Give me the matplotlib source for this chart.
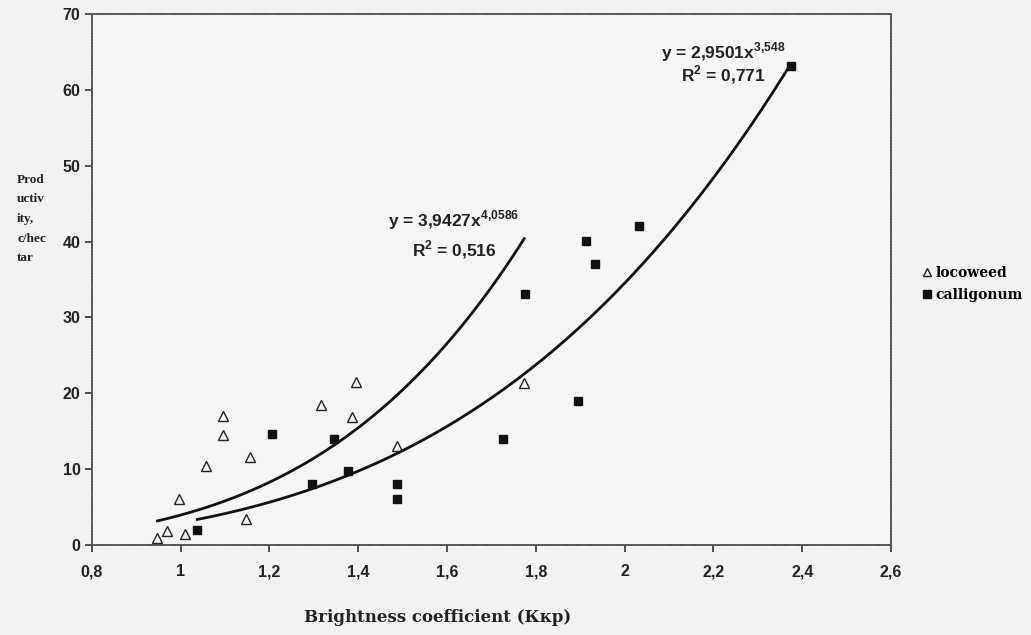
import matplotlib
matplotlib.use("Agg")
import matplotlib.pyplot as plt
import numpy as np
from matplotlib.lines import Line2D

# ---- data ----
loco_x = [0.948, 0.969, 1.010, 0.997, 1.057, 1.096, 1.096, 1.148, 1.157,
          1.316, 1.387, 1.395, 1.487, 1.774]
loco_y = [0.96, 1.8, 1.4, 6.0, 10.4, 14.5, 17.0, 3.4, 11.6,
          18.5, 16.9, 21.5, 13.0, 21.4]

calli_x = [1.038, 1.205, 1.297, 1.346, 1.377, 1.487, 1.487, 1.726, 1.775,
           1.896, 1.913, 1.933, 2.032, 2.374]
calli_y = [2.0, 14.6, 8.1, 14.0, 9.7, 8.1, 6.1, 14.0, 33.1,
           19.0, 40.1, 37.0, 42.1, 63.1]

# power trendline coefficients (from labels)
loco_a, loco_b = 3.9427, 4.0586
calli_a, calli_b = 2.9501, 3.548

x_ticks = [0.8, 1.0, 1.2, 1.4, 1.6, 1.8, 2.0, 2.2, 2.4, 2.6]
x_tick_labels = ["0,8", "1", "1,2", "1,4", "1,6", "1,8", "2", "2,2", "2,4", "2,6"]
y_ticks = [0, 10, 20, 30, 40, 50, 60, 70]

plt.rcParams['mathtext.fontset'] = 'custom'
plt.rcParams['mathtext.rm'] = 'Liberation Sans:bold'
plt.rcParams['mathtext.bf'] = 'Liberation Sans:bold'

W, H = 1031, 635
fig = plt.figure(figsize=(W / 100, H / 100), dpi=100)
bg = '#f2f2f2'
fig.patch.set_facecolor(bg)
ax = fig.add_axes([91.7 / W, (H - 545) / H, (891 - 91.7) / W, (545 - 14) / H])
ax.set_facecolor('#f5f5f5')

ax.set_xlim(0.8, 2.6)
ax.set_ylim(0, 70)

# trendlines
xs1 = np.linspace(min(loco_x), max(loco_x), 200)
ax.plot(xs1, loco_a * xs1 ** loco_b, color='#111111', lw=2.0, zorder=2)
xs2 = np.linspace(min(calli_x), max(calli_x), 200)
ax.plot(xs2, calli_a * xs2 ** calli_b, color='#111111', lw=2.0, zorder=2)

# scatter
ax.plot(loco_x, loco_y, linestyle='none', marker='^', markersize=6.5,
        markerfacecolor='none', markeredgecolor='#222222', markeredgewidth=1.0, zorder=3)
ax.plot(calli_x, calli_y, linestyle='none', marker='s', markersize=6,
        markerfacecolor='#111111', markeredgecolor='#111111', zorder=3)

for s in ax.spines.values():
    s.set_color('#555555')
    s.set_linewidth(1.3)
    s.set_linestyle((0, (1, 0.6)))

ax.set_xticks(x_ticks)
ax.set_xticklabels(x_tick_labels)
ax.set_yticks(y_ticks)
ax.tick_params(direction='out', length=5, width=1.2, color='#333333')
ax.tick_params(axis='x', pad=9)
ax.tick_params(axis='y', pad=3)
for lab in ax.get_xticklabels() + ax.get_yticklabels():
    lab.set_fontfamily('Liberation Sans')
    lab.set_fontweight('bold')
    lab.set_fontsize(11.5)
    lab.set_color('#222222')

# equations
eq_kw = dict(fontsize=12.5, family='Liberation Sans', weight='bold',
             ha='center', va='center', color='#222222')
ax.text(1.616, 42.8, r"y = 3,9427x$^{\mathrm{4{,}0586}}$", **eq_kw)
ax.text(1.616, 38.9, r"R$^{\mathrm{2}}$ = 0,516", **eq_kw)
ax.text(2.222, 65.0, r"y = 2,9501x$^{\mathrm{3{,}548}}$", **eq_kw)
ax.text(2.222, 62.0, r"R$^{\mathrm{2}}$ = 0,771", **eq_kw)

# axis labels
fig.text(438 / W, 1 - 617 / H, "Brightness coefficient (Ккр)", ha='center', va='center',
         family='DejaVu Serif', weight='bold', fontsize=12, color='#222222')
fig.text(17 / W, 1 - 219 / H, "Prod\nuctiv\nity,\nc/hec\ntar", ha='left', va='center',
         family='Liberation Serif', weight='bold', fontsize=9.5, linespacing=1.85,
         color='#222222')

# legend
handles = [Line2D([], [], linestyle='none', marker='^', markersize=6,
                  markerfacecolor='none', markeredgecolor='#222222'),
           Line2D([], [], linestyle='none', marker='s', markersize=5.5,
                  markerfacecolor='#111111', markeredgecolor='#111111')]
fig.legend(handles, ["locoweed", "calligonum"], loc='upper left',
           bbox_to_anchor=(916 / W, 1 - 259 / H), frameon=False,
           prop={'family': 'DejaVu Serif', 'weight': 'bold', 'size': 10},
           handlelength=0.6, handletextpad=0.3, labelspacing=0.55, borderpad=0)

fig.savefig("out.png", dpi=100, facecolor=bg)
